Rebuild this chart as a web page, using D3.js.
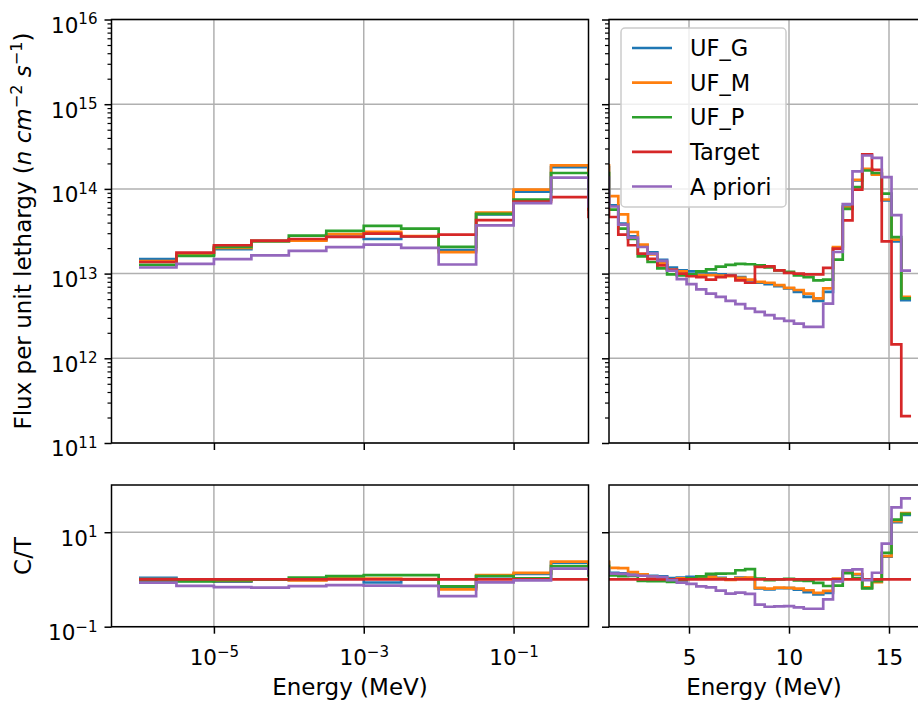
<!DOCTYPE html>
<html>
<head>
<meta charset="utf-8">
<script src="https://cdn.jsdelivr.net/npm/d3@7"></script>
<style>
body { margin: 0; background: #fff; }
#chart text { font-family: "DejaVu Sans", sans-serif; fill: #000; }
</style>
</head>
<body>
<svg id="chart" width="918" height="702"></svg>
<script>

// energy bin edges (MeV): half-decade bins below 1 MeV, ~0.49 MeV bins above
var lowEdges = [1e-6, 3.162e-6, 1e-5, 3.162e-5, 1e-4, 3.162e-4, 1e-3, 3.162e-3, 1e-2, 3.162e-2, 0.1, 0.3162, 1];
var highEdges = [1.465, 1.953, 2.441, 2.929, 3.417, 3.905, 4.392, 4.880, 5.368, 5.856, 6.344,
	6.832, 7.320, 7.808, 8.296, 8.784, 9.271, 9.759, 10.247, 10.735, 11.223, 11.711,
	12.199, 12.687, 13.175, 13.663, 14.150, 14.638, 15.126, 15.614, 16.102];

// flux per unit lethargy, one value per bin (12 low + 31 high)
var ufG = [1.48e13, 1.66e13, 1.94e13, 2.42e13, 2.50e13, 2.90e13, 2.56e13, 2.74e13, 1.89e13, 5.0e13, 9.3e13, 1.81e14,
	6.4e13, 3.89e13, 2.75e13, 2.14e13, 1.78e13, 1.45e13, 1.18e13, 1.09e13, 1.06e13, 1.03e13, 1.0e13,
	9.8e12, 9.5e12, 9.1e12, 8.3e12, 7.8e12, 7.5e12, 7.1e12, 6.7e12, 6.1e12, 5.3e12, 4.76e12,
	6.1e12, 1.97e13, 6.2e13, 1.26e14, 1.70e14, 1.51e14, 7.3e13, 2.40e13, 4.85e12];
var ufM = [1.40e13, 1.68e13, 2.01e13, 2.42e13, 2.45e13, 2.92e13, 3.11e13, 2.78e13, 1.79e13, 5.26e13, 9.8e13, 1.90e14,
	8.2e13, 5.0e13, 3.10e13, 2.20e13, 1.69e13, 1.35e13, 1.11e13, 1.06e13, 9.8e12, 9.6e12, 9.6e12,
	9.5e12, 9.3e12, 8.9e12, 8.5e12, 8.0e12, 7.8e12, 7.3e12, 6.8e12, 6.4e12, 5.8e12, 5.1e12,
	6.7e12, 2.06e13, 6.0e13, 1.28e14, 1.73e14, 1.47e14, 7.5e13, 2.52e13, 5.3e12];
var ufP = [1.27e13, 1.62e13, 2.07e13, 2.42e13, 2.81e13, 3.19e13, 3.66e13, 3.40e13, 2.07e13, 5.06e13, 7.48e13, 1.54e14,
	5.7e13, 3.39e13, 2.56e13, 1.60e13, 1.37e13, 1.15e13, 9.8e12, 9.5e12, 9.8e12, 1.06e13, 1.12e13,
	1.21e13, 1.27e13, 1.30e13, 1.29e13, 1.25e13, 1.18e13, 1.09e13, 1.05e13, 9.5e12, 9.1e12, 8.3e12,
	8.5e12, 1.46e13, 5.8e13, 1.05e14, 1.65e14, 1.54e14, 8.8e13, 2.70e13, 5.1e12];
var target = [1.37e13, 1.77e13, 2.16e13, 2.45e13, 2.56e13, 2.71e13, 2.97e13, 2.74e13, 2.89e13, 4.27e13, 7.1e13, 8.0e13,
	4.66e13, 2.88e13, 2.16e13, 1.72e13, 1.49e13, 1.25e13, 1.11e13, 1.0e13, 9.3e12, 9.1e12, 8.5e12,
	9.1e12, 9.5e12, 8.3e12, 7.8e12, 1.20e13, 1.22e13, 1.09e13, 1.02e13, 1.0e13, 9.8e12, 9.8e12,
	1.17e13, 1.97e13, 4.25e13, 9.8e13, 2.55e14, 1.68e14, 2.40e13, 1.46e12, 2.08e11];
var aPriori = [1.18e13, 1.30e13, 1.48e13, 1.64e13, 1.85e13, 2.05e13, 2.20e13, 2.01e13, 1.28e13, 3.72e13, 6.8e13, 1.36e14,
	6.2e13, 3.78e13, 2.66e13, 2.06e13, 1.72e13, 1.41e13, 1.08e13, 8.6e12, 7.5e12, 6.5e12, 5.8e12,
	5.3e12, 4.76e12, 4.35e12, 3.87e12, 3.53e12, 3.23e12, 2.95e12, 2.77e12, 2.57e12, 2.35e12, 2.35e12,
	4.43e12, 1.80e13, 6.6e13, 1.61e14, 2.48e14, 2.33e14, 1.38e14, 4.9e13, 1.085e13];

var seriesNames = ["UF_G", "UF_M", "UF_P", "Target", "A priori"];
var seriesColors = ["#1f77b4", "#ff7f0e", "#2ca02c", "#d62728", "#9467bd"];
var seriesVals = [ufG, ufM, ufP, target, aPriori];

var fluxTicks = [1e11, 1e12, 1e13, 1e14, 1e15, 1e16];
var ratioTicks = [0.1, 10];
var logXTicks = [1e-5, 1e-3, 1e-1];
var linXTicks = [5, 10, 15];

var edges = lowEdges.concat(highEdges);

var FS_TICK = 21.5, FS_LABEL = 23, FS_LEGEND = 22.5;
var LW = 2.7;

var svg = d3.select("#chart");

// scales
var xLog = d3.scaleLog().domain([Math.pow(10, -6.367), 1]).range([111.5, 588.5]);
var xLin = d3.scaleLinear().domain([1, 16.5]).range([609, 919]);
var yFlux = d3.scaleLog().domain([1e11, 1e16]).range([443, 19.5]);
var yRatio = d3.scaleLog().domain([0.1, 100]).range([626.7, 485]);

var stepPoints = function(vals) {
	var pts = [];
	vals.forEach(function(v, i) {
		pts.push([edges[i], v], [edges[i + 1], v]);
	});
	return pts;
};

var ratioVals = seriesVals.map(function(s) {
	return s.map(function(v, i) { return v / target[i]; });
});

var minorLog = function(lo, hi) {
	var out = [];
	for (var e = lo; e < hi; e++)
		for (var m = 2; m < 10; m++) out.push(m * Math.pow(10, e));
	return out;
};

var supLabel = function(sel, expFor, sup) {
	sel.each(function(d) {
		var t = d3.select(this).text(null);
		t.append("tspan").text("10");
		t.append("tspan").attr("dy", sup).attr("font-size", FS_TICK * 0.7).text(expFor(d));
	});
};

var expOf = function(d) {
	var e = Math.round(Math.log10(d));
	return (e < 0 ? "\u2212" : "") + Math.abs(e);
};

var drawPanel = function(p) {
	var xr = p.x.range(), yr = p.y.range();
	var left = xr[0], right = xr[1], top = yr[1], bottom = yr[0];
	var g = svg.append("g");

	svg.append("clipPath").attr("id", "clip-" + p.name)
		.append("rect").attr("x", left).attr("y", top)
		.attr("width", right - left).attr("height", bottom - top);

	// grid
	g.selectAll(".gx").data(p.xTicks).enter().append("line")
		.attr("x1", function(d) { return p.x(d); }).attr("x2", function(d) { return p.x(d); })
		.attr("y1", top).attr("y2", bottom)
		.attr("stroke", "#b0b0b0").attr("stroke-width", 1.5);
	g.selectAll(".gy").data(p.yTicks).enter().append("line")
		.attr("y1", function(d) { return p.y(d); }).attr("y2", function(d) { return p.y(d); })
		.attr("x1", left).attr("x2", right)
		.attr("stroke", "#b0b0b0").attr("stroke-width", 1.5);

	// step lines
	var line = d3.line()
		.x(function(d) { return p.x(d[0]); })
		.y(function(d) { return p.y(d[1]); });
	var lines = g.append("g").attr("clip-path", "url(#clip-" + p.name + ")");
	p.data.forEach(function(vals, k) {
		lines.append("path")
			.attr("d", line(stepPoints(vals)))
			.attr("fill", "none")
			.attr("stroke", seriesColors[k])
			.attr("stroke-width", LW)
			.attr("stroke-linejoin", "miter")
			.attr("stroke-linecap", "butt");
	});

	// minor y ticks
	if (p.yMinor) {
		var ym = g.append("g").attr("transform", "translate(" + left + ",0)")
			.call(d3.axisLeft(p.y).tickValues(p.yMinor).tickSize(4).tickFormat(""));
		ym.select(".domain").remove();
		ym.selectAll("line").attr("stroke-width", 1.2);
	}

	// major y ticks
	var ya = g.append("g").attr("transform", "translate(" + left + ",0)")
		.call(d3.axisLeft(p.y).tickValues(p.yTicks).tickSize(7).tickPadding(7));
	ya.select(".domain").remove();
	ya.selectAll("line").attr("stroke-width", 1.5);
	if (p.yLabels) {
		ya.selectAll("text").attr("font-size", FS_TICK).attr("dy", "0.6em")
			.call(supLabel, expOf, -8.5);
	} else {
		ya.selectAll("text").remove();
	}

	// x ticks
	var xa = g.append("g").attr("transform", "translate(0," + bottom + ")")
		.call(d3.axisBottom(p.x).tickValues(p.xTicks).tickSize(7).tickPadding(7));
	xa.select(".domain").remove();
	xa.selectAll("line").attr("stroke-width", 1.5);
	if (p.xLabels === "log") {
		xa.selectAll("text").attr("font-size", FS_TICK).attr("dy", "1.15em")
			.call(supLabel, expOf, -8.5);
	} else if (p.xLabels === "lin") {
		xa.selectAll("text").attr("font-size", FS_TICK).attr("dy", "1.15em")
			.text(function(d) { return d; });
	} else {
		xa.selectAll("text").remove();
	}

	// spines
	g.append("rect").attr("x", left).attr("y", top)
		.attr("width", right - left).attr("height", bottom - top)
		.attr("fill", "none").attr("stroke", "#000").attr("stroke-width", 1.5);
};

drawPanel({ name: "tl", x: xLog, y: yFlux, data: seriesVals, xTicks: logXTicks, yTicks: fluxTicks,
	yMinor: minorLog(11, 16), yLabels: true, xLabels: null });
drawPanel({ name: "tr", x: xLin, y: yFlux, data: seriesVals, xTicks: linXTicks, yTicks: fluxTicks,
	yMinor: minorLog(11, 16), yLabels: false, xLabels: null });
drawPanel({ name: "bl", x: xLog, y: yRatio, data: ratioVals, xTicks: logXTicks, yTicks: ratioTicks,
	yMinor: null, yLabels: true, xLabels: "log" });
drawPanel({ name: "br", x: xLin, y: yRatio, data: ratioVals, xTicks: linXTicks, yTicks: ratioTicks,
	yMinor: null, yLabels: false, xLabels: "lin" });

// axis labels
svg.append("text").attr("x", 350).attr("y", 695).attr("text-anchor", "middle")
	.attr("font-size", FS_LABEL).text("Energy (MeV)");
svg.append("text").attr("x", 764).attr("y", 695).attr("text-anchor", "middle")
	.attr("font-size", FS_LABEL).text("Energy (MeV)");

var yl = svg.append("text").attr("transform", "translate(31,231) rotate(-90)")
	.attr("text-anchor", "middle").attr("font-size", FS_LABEL);
yl.append("tspan").text("Flux per unit lethargy (");
yl.append("tspan").attr("font-style", "italic").text("n cm");
yl.append("tspan").attr("dy", -9).attr("font-size", FS_LABEL * 0.7).text("\u22122");
yl.append("tspan").attr("dy", 9).attr("font-style", "italic").text(" s");
yl.append("tspan").attr("dy", -9).attr("font-size", FS_LABEL * 0.7).text("\u22121");
yl.append("tspan").attr("dy", 9).text(")");

svg.append("text").attr("transform", "translate(31,556) rotate(-90)")
	.attr("text-anchor", "middle").attr("font-size", FS_LABEL).text("C/T");

// legend
var leg = svg.append("g");
leg.append("rect").attr("x", 621).attr("y", 28).attr("width", 165).attr("height", 179)
	.attr("rx", 4).attr("fill", "#fff").attr("fill-opacity", 0.8)
	.attr("stroke", "#ccc").attr("stroke-width", 1.5);
var legY = d3.scalePoint().domain(seriesNames).range([48, 186.5]);
seriesNames.forEach(function(n, k) {
	leg.append("line").attr("x1", 632).attr("x2", 672)
		.attr("y1", legY(n)).attr("y2", legY(n))
		.attr("stroke", seriesColors[k]).attr("stroke-width", LW);
	leg.append("text").attr("x", 690).attr("y", legY(n) + 8)
		.attr("font-size", FS_LEGEND).text(n);
});

</script>
</body>
</html>
